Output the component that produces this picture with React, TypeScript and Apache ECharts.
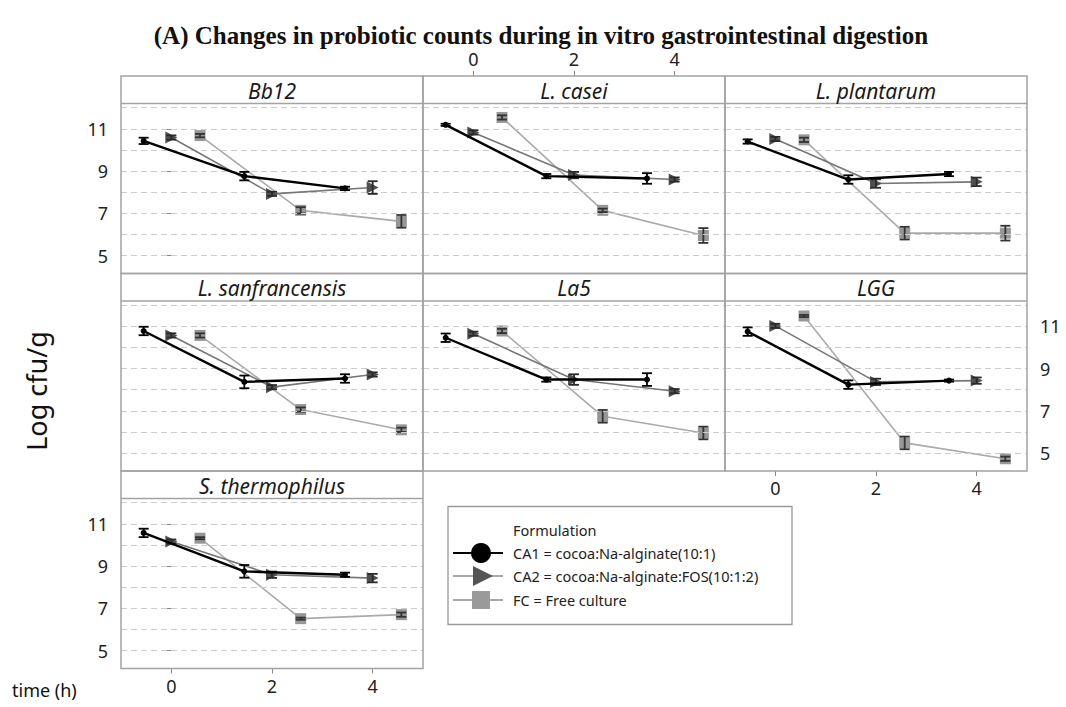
import React, { useEffect, useRef } from 'react';
import * as echarts from 'echarts';

// ---------- data ----------
const TIMES = [0, 2, 4];
const X_TICKS = [0, 2, 4];
const Y_TICKS = [5, 7, 9, 11];
const GRID_VALUES = [5, 6, 7, 8, 9, 10, 11, 12];
const STRAINS = ['Bb12', 'L. casei', 'L. plantarum', 'L. sanfrancensis', 'La5', 'LGG', 'S. thermophilus'];
const FORMULATIONS = ['CA1 = cocoa:Na-alginate(10:1)', 'CA2 = cocoa:Na-alginate:FOS(10:1:2)', 'FC = Free culture'];

const CA1_MEANS = [
  [10.43, 8.76, 8.18], [11.19, 8.76, 8.65], [10.40, 8.60, 8.86], [10.78, 8.37, 8.53],
  [10.46, 8.48, 8.48], [10.75, 8.24, 8.43], [10.57, 8.75, 8.59],
];
const CA2_MEANS = [
  [10.59, 7.92, 8.22], [10.83, 8.81, 8.60], [10.52, 8.41, 8.49], [10.57, 8.12, 8.72],
  [10.65, 8.48, 7.93], [11.02, 8.37, 8.43], [10.16, 8.59, 8.43],
];
const FC_MEANS = [
  [10.68, 7.14, 6.62], [11.54, 7.14, 5.95], [10.48, 6.06, 6.06], [10.57, 7.06, 6.10],
  [10.78, 6.74, 5.95], [11.49, 5.48, 4.73], [10.32, 6.51, 6.70],
];
const CA1_ERR = [
  [0.15, 0.2, 0.08], [0.05, 0.1, 0.25], [0.1, 0.2, 0.1], [0.2, 0.3, 0.2],
  [0.2, 0.1, 0.3], [0.2, 0.2, 0.05], [0.2, 0.3, 0.1],
];
const CA2_ERR = [
  [0.1, 0.1, 0.3], [0.1, 0.15, 0.1], [0.1, 0.2, 0.2], [0.1, 0.1, 0.1],
  [0.1, 0.25, 0.1], [0.1, 0.15, 0.15], [0.1, 0.15, 0.2],
];
const FC_ERR = [
  [0.08, 0.15, 0.3], [0.1, 0.08, 0.35], [0.1, 0.3, 0.35], [0.1, 0.1, 0.1],
  [0.1, 0.3, 0.3], [0.05, 0.3, 0.1], [0.05, 0.05, 0.1],
];

// ---------- layout / style ----------
const W = 1066;
const H = 707;
const COL_LEFT = [121, 423, 725];
const PANEL_W = 302;
const ROW_TOP = [76, 273.5, 471];
const HEADER_H = 27.5;
const PLOT_H = 170;
const PANEL_POS = [[0, 0], [0, 1], [0, 2], [1, 0], [1, 1], [1, 2], [2, 0]];
const DODGE = [-0.55, 0, 0.57];
const FONT = '"Noto Sans", "Open Sans", sans-serif';

const SERIES_STYLE = [
  { line: '#000000', width: 2.4, symbol: 'circle', size: 6, rotate: 0, fill: '#000000', err: '#000000' },
  { line: '#767676', width: 1.6, symbol: 'triangle', size: 12, rotate: -90, fill: '#505050', err: '#2a2a2a' },
  { line: '#aaaaaa', width: 1.6, symbol: 'rect', size: 11, rotate: 0, fill: '#979797', err: '#333333' },
];
const MEANS = [CA1_MEANS, CA2_MEANS, FC_MEANS];
const ERRS = [CA1_ERR, CA2_ERR, FC_ERR];

function buildOption() {
  const grid: any[] = [];
  const xAxis: any[] = [];
  const yAxis: any[] = [];
  const series: any[] = [];
  const graphic: any[] = [];

  STRAINS.forEach((name, i) => {
    const [r, c] = PANEL_POS[i];
    const left = COL_LEFT[c];
    const top = ROW_TOP[r];
    grid.push({ left, top: top + HEADER_H, width: PANEL_W, height: PLOT_H, containLabel: false });

    const showTopX = i === 1;
    const showBottomX = i === 5 || i === 6;
    const showX = showTopX || showBottomX;
    const showLeftY = i === 0 || i === 6;
    const showRightY = i === 5;
    const showY = showLeftY || showRightY;

    xAxis.push({
      gridIndex: i, type: 'value', min: -1, max: 5,
      position: showTopX ? 'top' : 'bottom', offset: showTopX ? HEADER_H : 0,
      axisLine: { show: false },
      axisTick: { show: showX, customValues: X_TICKS, length: 5, lineStyle: { color: '#8a8a8a', width: 1 } },
      axisLabel: { show: showX, customValues: X_TICKS, fontSize: 18, color: '#222', fontFamily: FONT, margin: 8 },
      splitLine: { show: false },
    });
    yAxis.push({
      gridIndex: i, type: 'value', min: 4.15, max: 12.2,
      position: showRightY ? 'right' : 'left',
      axisLine: { show: false },
      axisTick: { show: showY, customValues: Y_TICKS, length: 6, lineStyle: { color: '#8a8a8a', width: 1 } },
      axisLabel: { show: showY, customValues: Y_TICKS, fontSize: 18, color: '#222', fontFamily: FONT, margin: 13 },
      splitLine: { show: false },
    });

    // gridlines holder
    series.push({
      type: 'line', xAxisIndex: i, yAxisIndex: i, data: [], z: 1, silent: true,
      markLine: {
        silent: true, symbol: 'none', label: { show: false }, animation: false,
        lineStyle: { type: [6, 4], color: '#cdcdcd', width: 1 },
        emphasis: { disabled: true },
        data: GRID_VALUES.map((v) => ({ yAxis: v })),
      },
    });

    // series drawn FC first, CA1 on top
    [2, 1, 0].forEach((k) => {
      const st = SERIES_STYLE[k];
      const pts = TIMES.map((t, j) => [t + DODGE[k], MEANS[k][i][j], ERRS[k][i][j]]);
      series.push({
        type: 'line', name: FORMULATIONS[k], xAxisIndex: i, yAxisIndex: i, z: 3 + (2 - k) * 2,
        data: pts.map((p) => [p[0], p[1]]),
        symbol: st.symbol, symbolSize: st.size, symbolRotate: st.rotate, showSymbol: true,
        lineStyle: { color: st.line, width: st.width },
        itemStyle: { color: st.fill, borderWidth: 0 },
        emphasis: { disabled: true }, silent: true,
      });
      series.push({
        type: 'custom', xAxisIndex: i, yAxisIndex: i, z: 4 + (2 - k) * 2, silent: true,
        data: pts,
        renderItem: (params: any, api: any) => {
          const x = api.value(0);
          const y = api.value(1);
          const e = api.value(2);
          const hi = api.coord([x, y + e]);
          const lo = api.coord([x, y - e]);
          const hw = 5;
          const style = { stroke: st.err, lineWidth: 1.8 };
          return {
            type: 'group',
            children: [
              { type: 'line', shape: { x1: hi[0], y1: hi[1], x2: lo[0], y2: lo[1] }, style },
              { type: 'line', shape: { x1: hi[0] - hw, y1: hi[1], x2: hi[0] + hw, y2: hi[1] }, style },
              { type: 'line', shape: { x1: lo[0] - hw, y1: lo[1], x2: lo[0] + hw, y2: lo[1] }, style },
            ],
          };
        },
      });
    });

    // panel frame and header
    graphic.push({
      type: 'rect', z: 50, silent: true,
      shape: { x: left, y: top, width: PANEL_W, height: HEADER_H + PLOT_H },
      style: { fill: 'none', stroke: '#a3a3a3', lineWidth: 1.5 },
    });
    graphic.push({
      type: 'line', z: 50, silent: true,
      shape: { x1: left, y1: top + HEADER_H, x2: left + PANEL_W, y2: top + HEADER_H },
      style: { stroke: '#a3a3a3', lineWidth: 1.5 },
    });
    graphic.push({
      type: 'text', z: 51, silent: true, x: left + PANEL_W / 2, y: top + HEADER_H / 2 + 1,
      style: {
        text: name, fill: '#1a1a1a', font: `italic 21px ${FONT}`, textAlign: 'center', textVerticalAlign: 'middle',
      },
    });
  });

  // title
  graphic.push({
    type: 'text', silent: true, x: 541, y: 35,
    style: {
      text: '(A) Changes in probiotic counts during in vitro gastrointestinal digestion',
      fill: '#111', font: 'bold 25px "Liberation Serif", "Times New Roman", serif',
      textAlign: 'center', textVerticalAlign: 'middle',
    },
  });
  // axis titles
  graphic.push({
    type: 'text', silent: true, x: 36, y: 391, rotation: Math.PI / 2,
    style: { text: 'Log cfu/g', fill: '#111', font: `27px ${FONT}`, textAlign: 'center', textVerticalAlign: 'middle' },
  });
  graphic.push({
    type: 'text', silent: true, x: 12, y: 690,
    style: { text: 'time (h)', fill: '#111', font: `18px ${FONT}`, textAlign: 'left', textVerticalAlign: 'middle' },
  });

  // legend
  const LX = 448, LY = 506.5, LW = 344, LH = 118;
  graphic.push({
    type: 'rect', silent: true, shape: { x: LX, y: LY, width: LW, height: LH },
    style: { fill: '#fff', stroke: '#9a9a9a', lineWidth: 1.3 },
  });
  graphic.push({
    type: 'text', silent: true, x: 513, y: 530,
    style: { text: 'Formulation', fill: '#222', font: `14.5px ${FONT}`, textVerticalAlign: 'middle' },
  });
  const rowY = [553, 576, 600];
  const legLine = ['#000000', '#a8a8a8', '#a8a8a8'];
  const legW = [2.2, 2, 2];
  FORMULATIONS.forEach((f, k) => {
    const y = rowY[k];
    graphic.push({
      type: 'line', silent: true, shape: { x1: 453, y1: y, x2: 503, y2: y },
      style: { stroke: legLine[k], lineWidth: legW[k] },
    });
    if (k === 0) {
      graphic.push({ type: 'circle', silent: true, shape: { cx: 481, cy: y, r: 10 }, style: { fill: '#000' } });
    } else if (k === 1) {
      graphic.push({
        type: 'polygon', silent: true, shape: { points: [[473, y - 10], [493, y], [473, y + 10]] },
        style: { fill: '#555' },
      });
    } else {
      graphic.push({ type: 'rect', silent: true, shape: { x: 472, y: y - 9, width: 18, height: 18 }, style: { fill: '#9a9a9a' } });
    }
    graphic.push({
      type: 'text', silent: true, x: 513, y,
      style: { text: f, fill: '#222', font: `14.5px ${FONT}`, textVerticalAlign: 'middle' },
    });
  });

  return {
    animation: false,
    backgroundColor: '#ffffff',
    grid, xAxis, yAxis, series, graphic,
  };
}

export default function App() {
  const ref = useRef<HTMLDivElement>(null);
  useEffect(() => {
    const chart = echarts.init(ref.current!, null, { renderer: 'svg' });
    chart.setOption(buildOption() as any);
    return () => chart.dispose();
  }, []);
  return (
    <div
      ref={ref}
      style={{ position: 'fixed', left: 0, top: 0, width: W, height: H, background: '#fff' }}
    />
  );
}
